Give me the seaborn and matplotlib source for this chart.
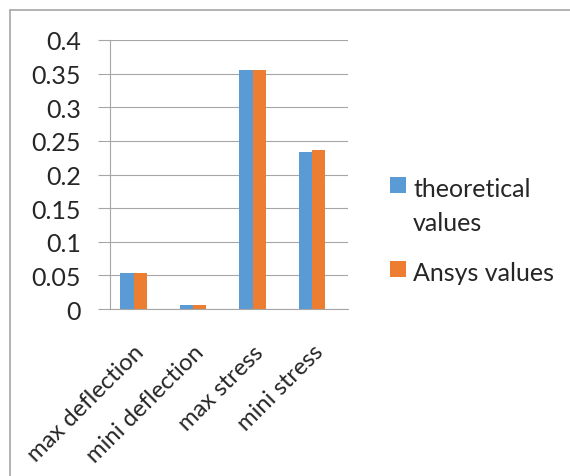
import pandas as pd
import seaborn as sns
from matplotlib import pyplot as plt
from matplotlib.lines import Line2D
from matplotlib.ticker import FuncFormatter

categories = ['max deflection', 'mini deflection', 'max stress', 'mini stress']
theoretical = [0.054, 0.006, 0.356, 0.233]
ansys = [0.054, 0.0055, 0.356, 0.237]
series_names = ['theoretical\nvalues', 'Ansys values']
y_ticks = [0, 0.05, 0.1, 0.15, 0.2, 0.25, 0.3, 0.35, 0.4]

df = pd.DataFrame({
    'category': categories * 2,
    'value': theoretical + ansys,
    'series': [series_names[0]] * 4 + [series_names[1]] * 4,
})

sns.set_style('white')
plt.rcParams['font.family'] = ['Lato', 'DejaVu Sans']
grey = '#a6a6a6'
fs = 18

fig = plt.figure(figsize=(5.7, 4.77), dpi=100)
ax = fig.add_axes([110 / 570, 1 - 310 / 477, 238 / 570, 269 / 477])

sns.barplot(data=df, x='category', y='value', hue='series', ax=ax,
            palette=['#5B9BD5', '#ED7D31'], width=0.445, saturation=1,
            linewidth=0, legend=True)

# bar groups sit a little left of the tick-mark midpoints, as in the original
off = 0.395
ax.set_xlim(-off, len(categories) - off)
ax.set_ylim(0, 0.4)
ax.set_yticks(y_ticks)
ax.yaxis.set_major_formatter(FuncFormatter(lambda v, p: '%g' % round(v, 2)))
ax.set_xlabel('')
ax.set_ylabel('')
ax.set_axisbelow(True)
ax.yaxis.grid(True, color=grey, linewidth=0.8)

ax.set_xticks(range(len(categories)))
ax.set_xticklabels(categories, rotation=45, ha='right', rotation_mode='anchor')
ax.set_xticks([i - off for i in range(len(categories) + 1)], minor=True)
ax.tick_params(axis='x', which='major', length=0, pad=23, labelsize=17.2)
ax.tick_params(axis='x', which='minor', length=9, width=0.8, color=grey, direction='out')
ax.tick_params(axis='y', length=9, width=0.8, color=grey, direction='out',
               left=True, labelsize=fs, pad=12)

for s in ['top', 'right']:
    ax.spines[s].set_visible(False)
for s in ['left', 'bottom']:
    ax.spines[s].set_color(grey)
    ax.spines[s].set_linewidth(0.8)

handles, labels = ax.get_legend_handles_labels()
ax.legend_.remove()
leg = fig.legend(handles, labels, loc='upper left', bbox_to_anchor=(380 / 570, 1 - 168 / 477),
                 borderaxespad=0, frameon=False, fontsize=fs, handlelength=0.62,
                 handleheight=0.62, handletextpad=0.3, labelspacing=1.05)
for t in leg.get_texts():
    t.set_linespacing(1.6)
# square next to the first line of a two-line label
for col in leg._legend_handle_box.get_children():
    for hp in col.get_children():
        hp.align = 'top'

# chart area border (left and top edges visible)
fig.add_artist(Line2D([9.5 / 570, 9.5 / 570], [0, 1 - 11 / 477], color=grey, linewidth=1.2,
                      transform=fig.transFigure))
fig.add_artist(Line2D([9.5 / 570, 1], [1 - 11 / 477, 1 - 11 / 477], color=grey, linewidth=1.2,
                      transform=fig.transFigure))

plt.savefig('out.png', dpi=100)
plt.close()
